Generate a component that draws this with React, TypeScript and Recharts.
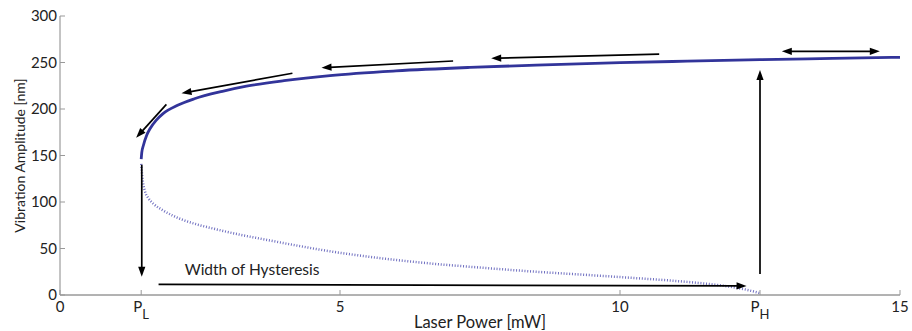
import React from "react";
import {
  LineChart,
  Line,
  XAxis,
  YAxis,
  ReferenceLine,
  ReferenceDot,
} from "recharts";

// power values where the branches start / end
const P_L = 1.45;
const P_H = 12.5;

const xTicks = [0, P_L, 5, 10, P_H, 15];
const yTicks = [0, 50, 100, 150, 200, 250, 300];

// stable (upper) branch
const upperX = [1.45, 1.46, 1.49, 1.55, 1.61, 1.72, 1.84, 2.1, 2.4, 2.9, 3.33, 4.0, 4.82, 6.0, 7.32, 8.5, 10.0, 11.2, 12.5, 13.8, 15.0];
const upperY = [146, 153, 161, 172, 179, 188, 195, 204, 211, 219, 224.5, 230.5, 236, 241, 244.7, 247.2, 249.8, 251.4, 253, 254.4, 255.6];

// unstable (lower) branch
const lowerX = [1.45, 1.46, 1.48, 1.52, 1.58, 1.67, 1.84, 2.14, 2.44, 2.8, 3.2, 3.63, 4.2, 4.82, 5.6, 6.6, 7.5, 8.5, 9.3, 10.2, 10.8, 11.4, 11.9, 12.27, 12.5];
const lowerY = [141, 133, 122, 111, 104, 98, 91, 82, 76, 70.5, 65, 60, 53.5, 47, 40.5, 34, 29.5, 25, 22, 18.5, 16, 13, 9.5, 5.5, 2];

// annotation arrows in data units: [x1, y1, x2 (tip), y2 (tip), double-headed]
const arrows: [number, number, number, number, boolean][] = [
  [10.7, 259, 7.7, 254.5, false],
  [7.02, 251.6, 4.67, 244.4, false],
  [4.15, 238.4, 2.17, 216.9, false],
  [1.9, 205, 1.36, 169, false],
  [1.46, 140, 1.46, 19.7, false],
  [1.76, 11.5, 12.26, 9.7, false],
  [12.5, 22.6, 12.5, 242, false],
  [12.89, 262, 14.64, 262, true],
];

const upperData = upperX.map((x, i) => ({ x, y: upperY[i] }));
const lowerData = lowerX.map((x, i) => ({ x, y: lowerY[i] }));

const FONT = "Lato, 'DejaVu Sans', sans-serif";
const TEXT = "#222";
const TICK = "#999";

const head = (tx: number, ty: number, ux: number, uy: number) => {
  const len = 10;
  const w = 3.6;
  const bx = tx - ux * len;
  const by = ty - uy * len;
  return `${tx},${ty} ${bx - uy * w},${by + ux * w} ${bx + uy * w},${by - ux * w}`;
};

const Arrow = (props: any) => {
  const { x1, y1, x2, y2, both } = props;
  const dx = x2 - x1;
  const dy = y2 - y1;
  const d = Math.sqrt(dx * dx + dy * dy) || 1;
  const ux = dx / d;
  const uy = dy / d;
  const sx = both ? x1 + ux * 8 : x1;
  const sy = both ? y1 + uy * 8 : y1;
  return (
    <g>
      <line x1={sx} y1={sy} x2={x2 - ux * 8} y2={y2 - uy * 8} stroke="#000" strokeWidth={1.7} />
      <polygon points={head(x2, y2, ux, uy)} fill="#000" />
      {both && <polygon points={head(x1, y1, -ux, -uy)} fill="#000" />}
    </g>
  );
};

const BottomTick = (props: any) => {
  const { x, y, payload } = props;
  const v = payload.value;
  const sub = v === P_L ? "L" : v === P_H ? "H" : null;
  return (
    <g>
      <line x1={x} y1={y} x2={x} y2={y - 5} stroke={TICK} />
      <text x={x} y={y + 17} textAnchor="middle" fill={TEXT} fontSize={15} fontFamily={FONT}>
        {sub ? (
          <>
            P<tspan dy={7} fontSize={13}>{sub}</tspan>
          </>
        ) : (
          v
        )}
      </text>
    </g>
  );
};

const TopTick = (props: any) => {
  const { x, y } = props;
  return <line x1={x} y1={y} x2={x} y2={y + 5} stroke={TICK} />;
};

const LeftTick = (props: any) => {
  const { x, y, payload } = props;
  return (
    <g>
      <line x1={x} y1={y} x2={x + 5} y2={y} stroke={TICK} />
      <text x={x - 3} y={y} dy="0.35em" textAnchor="end" fill={TEXT} fontSize={15} fontFamily={FONT}>
        {payload.value}
      </text>
    </g>
  );
};

const RightTick = (props: any) => {
  const { x, y } = props;
  return <line x1={x} y1={y} x2={x - 5} y2={y} stroke={TICK} />;
};

const XTitle = (props: any) => {
  const vb = props.viewBox;
  return (
    <text x={vb.x + vb.width / 2} y={322} dy="0.35em" textAnchor="middle" fill={TEXT} fontSize={16.5} fontFamily={FONT}>
      Laser Power [mW]
    </text>
  );
};

const YTitle = (props: any) => {
  const vb = props.viewBox;
  const cy = vb.y + vb.height / 2;
  return (
    <text x={20} y={cy} dy="0.35em" textAnchor="middle" transform={`rotate(-90 20 ${cy})`} fill={TEXT} fontSize={14} fontFamily={FONT}>
      Vibration Amplitude [nm]
    </text>
  );
};

export default function App() {
  return (
    <div style={{ position: "absolute", left: 0, top: 0, background: "#fff" }}>
      <LineChart width={912} height={331} margin={{ top: 16, right: 12, left: 0, bottom: 0 }}>
        <XAxis
          type="number"
          dataKey="x"
          domain={[0, 15]}
          ticks={xTicks}
          interval={0}
          height={36}
          tickSize={0}
          tickMargin={0}
          tickLine={false}
          axisLine={{ stroke: "#666" }}
          tick={<BottomTick />}
          allowDataOverflow
          label={{ content: (p: any) => <XTitle {...p} /> }}
        />
        <XAxis
          xAxisId="top"
          orientation="top"
          type="number"
          dataKey="x"
          domain={[0, 15]}
          ticks={xTicks}
          interval={0}
          height={0}
          tickSize={0}
          tickMargin={0}
          tickLine={false}
          axisLine={{ stroke: "#aaa" }}
          tick={<TopTick />}
          allowDataOverflow
        />
        <YAxis
          type="number"
          domain={[0, 300]}
          ticks={yTicks}
          interval={0}
          width={60}
          tickSize={0}
          tickMargin={0}
          tickLine={false}
          axisLine={{ stroke: "#888" }}
          tick={<LeftTick />}
          allowDataOverflow
          label={{ content: (p: any) => <YTitle {...p} /> }}
        />
        <YAxis
          yAxisId="right"
          orientation="right"
          type="number"
          domain={[0, 300]}
          ticks={yTicks}
          interval={0}
          width={0}
          tickSize={0}
          tickMargin={0}
          tickLine={false}
          axisLine={{ stroke: "#aaa" }}
          tick={<RightTick />}
          allowDataOverflow
        />
        <Line
          data={lowerData}
          dataKey="y"
          type="monotone"
          stroke="#6f6fc0"
          strokeWidth={2.5}
          strokeDasharray="1 1.8"
          dot={false}
          activeDot={false}
          isAnimationActive={false}
        />
        <Line
          data={upperData}
          dataKey="y"
          type="monotone"
          stroke="#32349a"
          strokeWidth={2.8}
          dot={false}
          activeDot={false}
          isAnimationActive={false}
        />
        {arrows.map(([ax1, ay1, ax2, ay2, both], i) => (
          <ReferenceLine
            key={i}
            segment={[
              { x: ax1, y: ay1 },
              { x: ax2, y: ay2 },
            ]}
            shape={(p: any) => <Arrow {...p} both={both} />}
          />
        ))}
        <ReferenceDot
          x={3.43}
          y={27}
          r={0}
          shape={(p: any) => (
            <text x={p.cx} y={p.cy} dy="0.35em" textAnchor="middle" fill={TEXT} fontSize={15.5} fontFamily={FONT}>
              Width of Hysteresis
            </text>
          )}
        />
      </LineChart>
    </div>
  );
}
